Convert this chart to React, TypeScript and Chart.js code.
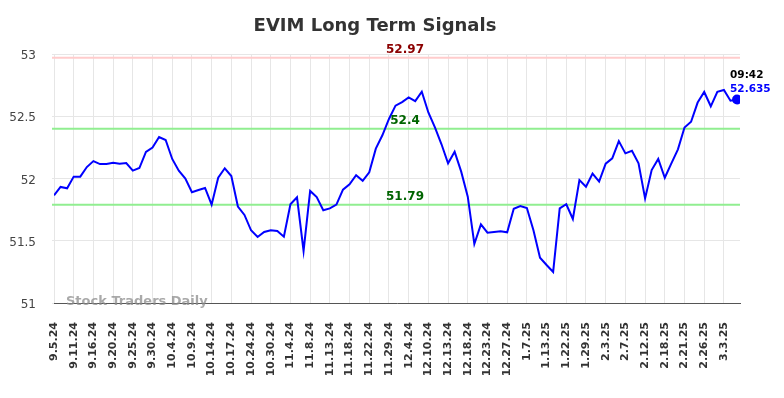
import React, { useEffect, useRef } from "react";
import { Chart, registerables } from "chart.js";

Chart.register(...registerables);

const TITLE = "EVIM Long Term Signals";
const tickLabels = [
  "9.5.24", "9.11.24", "9.16.24", "9.20.24", "9.25.24", "9.30.24", "10.4.24", "10.9.24",
  "10.14.24", "10.17.24", "10.24.24", "10.30.24", "11.4.24", "11.8.24", "11.13.24", "11.18.24",
  "11.22.24", "11.29.24", "12.4.24", "12.10.24", "12.13.24", "12.18.24", "12.23.24", "12.27.24",
  "1.7.25", "1.13.25", "1.22.25", "1.29.25", "2.3.25", "2.7.25", "2.12.25", "2.18.25",
  "2.21.25", "2.26.25", "3.3.25",
];
const POINTS_PER_TICK = 3;
const prices = [
  51.865, 51.932, 51.921, 52.015, 52.015, 52.092, 52.14, 52.116, 52.116, 52.127,
  52.119, 52.124, 52.063, 52.084, 52.213, 52.248, 52.333, 52.309, 52.157, 52.063,
  52.0, 51.89, 51.908, 51.924, 51.79, 52.006, 52.082, 52.02, 51.775, 51.707,
  51.584, 51.53, 51.57, 51.584, 51.578, 51.533, 51.793, 51.849, 51.418, 51.9,
  51.851, 51.745, 51.76, 51.79, 51.91, 51.953, 52.026, 51.982, 52.05, 52.24,
  52.347, 52.478, 52.585, 52.614, 52.652, 52.622, 52.697, 52.53, 52.41, 52.275,
  52.122, 52.215, 52.055, 51.854, 51.474, 51.632, 51.565, 51.57, 51.576, 51.568,
  51.757, 51.779, 51.763, 51.584, 51.364, 51.305, 51.25, 51.76, 51.793, 51.675,
  51.988, 51.934, 52.04, 51.975, 52.119, 52.162, 52.3, 52.202, 52.223, 52.122,
  51.84, 52.068, 52.157, 52.006, 52.122, 52.234, 52.41, 52.456, 52.61, 52.695,
  52.58, 52.697, 52.711, 52.625, 52.635,
];
const resistance = 52.97;
const upperSupport = 52.4;
const lowerSupport = 51.79;
const lastTime = "09:42";
const lastValueLabel = "52.635";
const yTicks = [51, 51.5, 52, 52.5, 53];

const FONT = "'DejaVu Sans', sans-serif";

const overlayPlugin = {
  id: "overlay",
  beforeDatasetsDraw(chart: any) {
    const { ctx, chartArea, scales } = chart;
    const y = scales.y;
    const lines = [
      { v: resistance, color: "#ffcccc" },
      { v: upperSupport, color: "#90ee90" },
      { v: lowerSupport, color: "#90ee90" },
    ];
    ctx.save();
    lines.forEach((l) => {
      const py = y.getPixelForValue(l.v);
      ctx.strokeStyle = l.color;
      ctx.lineWidth = 2;
      ctx.beginPath();
      ctx.moveTo(chartArea.left - 2, py);
      ctx.lineTo(chartArea.right, py);
      ctx.stroke();
    });
    ctx.restore();
  },
  afterDatasetsDraw(chart: any) {
    const { ctx, chartArea, scales } = chart;
    const x = scales.x;
    const y = scales.y;
    ctx.save();
    // level labels
    const labels = [
      { v: resistance, text: resistance.toFixed(2), color: "#8b0000" },
      { v: upperSupport, text: String(upperSupport), color: "#006400" },
      { v: lowerSupport, text: lowerSupport.toFixed(2), color: "#006400" },
    ];
    ctx.font = `bold 12px ${FONT}`;
    ctx.textAlign = "center";
    ctx.textBaseline = "middle";
    labels.forEach((l) => {
      ctx.fillStyle = l.color;
      ctx.fillText(l.text, 397, y.getPixelForValue(l.v) - 8);
    });
    // last point labels
    const li = prices.length - 1;
    const px = x.getPixelForValue(li);
    const py = y.getPixelForValue(prices[li]);
    ctx.textAlign = "left";
    ctx.font = `bold 10.5px ${FONT}`;
    ctx.fillStyle = "#000000";
    ctx.fillText(lastTime, px - 7, py - 24);
    ctx.fillStyle = "#0000ff";
    ctx.fillText(lastValueLabel, px - 7, py - 10);
    // watermark
    ctx.font = `bold 13px ${FONT}`;
    ctx.fillStyle = "rgba(140,140,140,0.75)";
    ctx.fillText("Stock Traders Daily", 58, chartArea.bottom - 1);
    // title
    ctx.font = `bold 18px ${FONT}`;
    ctx.fillStyle = "#333333";
    ctx.textAlign = "center";
    ctx.fillText(TITLE, 367, 18);
    ctx.restore();
  },
};

export default function App() {
  const ref = useRef<HTMLCanvasElement | null>(null);
  useEffect(() => {
    if (!ref.current) return;
    Chart.defaults.font.family = FONT;
    const chart = new Chart(ref.current, {
      type: "line",
      data: {
        datasets: [
          {
            data: prices.map((v, i) => ({ x: i, y: v })),
            borderColor: "#0000ff",
            backgroundColor: "#0000ff",
            borderWidth: 2,
            tension: 0,
            pointRadius: (c: any) => (c.dataIndex === prices.length - 1 ? 4 : 0),
            pointHoverRadius: 0,
          },
        ],
      },
      options: {
        animation: false,
        responsive: false,
        events: [],
        layout: { padding: { top: 46, right: 36, left: 0, bottom: 0 } },
        plugins: {
          legend: { display: false },
          title: { display: false },
          tooltip: { enabled: false },
        },
        scales: {
          x: {
            type: "linear",
            min: 0,
            max: 104.45,
            afterBuildTicks: (axis: any) => {
              axis.ticks = tickLabels.map((_, i) => ({ value: i * POINTS_PER_TICK }));
            },
            afterFit: (axis: any) => {
              axis.height = 87;
            },
            grid: { color: "#e6e6e6", lineWidth: 1, tickLength: 0 },
            border: { display: true, color: "#555555", width: 1 },
            ticks: {
              autoSkip: false,
              maxRotation: 90,
              minRotation: 90,
              padding: 19,
              color: "#333333",
              font: { size: 11, weight: "bold" },
              callback: (value: any) => tickLabels[Math.round(Number(value) / POINTS_PER_TICK)] ?? "",
            },
          },
          y: {
            min: 51,
            max: 53,
            afterBuildTicks: (axis: any) => {
              axis.ticks = yTicks.map((v) => ({ value: v }));
            },
            afterFit: (axis: any) => {
              axis.width = 46;
            },
            grid: { color: "#e6e6e6", lineWidth: 1, tickLength: 2 },
            border: { display: false },
            ticks: {
              padding: 16,
              labelOffset: 2,
              color: "#444444",
              font: { size: 12 },
              callback: (value: any) => String(value),
            },
          },
        },
      },
      plugins: [overlayPlugin],
    } as any);
    return () => chart.destroy();
  }, []);
  return (
    <div style={{ width: 768, height: 382 }}>
      <canvas ref={ref} width={768} height={382} style={{ display: "block" }} />
    </div>
  );
}
